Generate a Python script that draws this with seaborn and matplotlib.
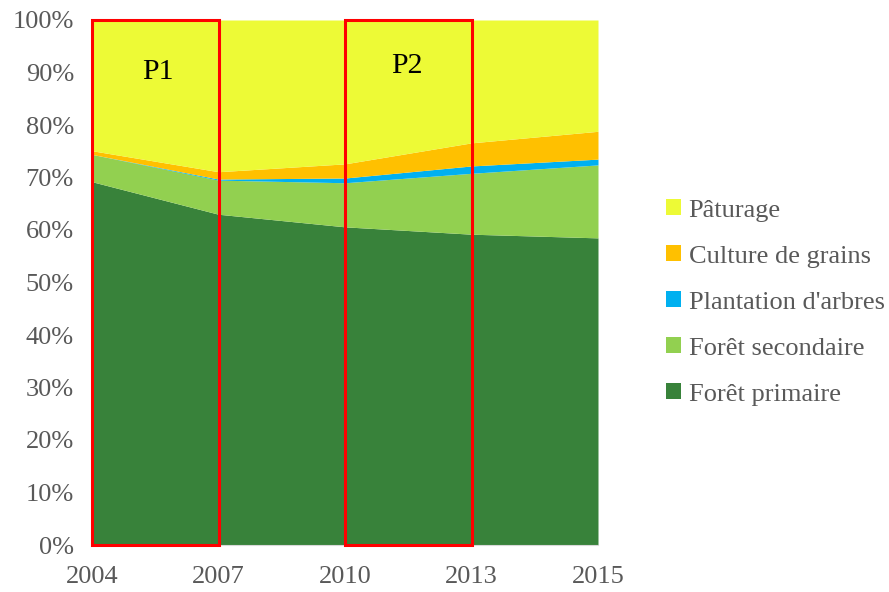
import numpy as np
import matplotlib
matplotlib.use("Agg")
import matplotlib.pyplot as plt
from matplotlib.patches import Rectangle
import seaborn as sns

##### DATA (shares in %)
years = ["2004", "2007", "2010", "2013", "2015"]
foret_primaire = [69.2, 63.0, 60.6, 59.2, 58.5]
foret_secondaire = [5.2, 6.5, 8.4, 11.6, 13.9]
plantation = [0.0, 0.2, 0.9, 1.4, 1.1]
grains = [0.7, 1.4, 2.7, 4.4, 5.3]
paturage = [24.9, 28.9, 27.4, 23.4, 21.2]

labels = ["Forêt primaire", "Forêt secondaire", "Plantation d'arbres",
          "Culture de grains", "Pâturage"]
colours = ["#38823A", "#92D050", "#00B0F0", "#FFC000", "#EDFA36"]

# periods boxed in red: (label, start year, end year)
periods = [("P1", "2004", "2007"), ("P2", "2010", "2013")]

##### PLOT
sns.set_style("white")
plt.rcParams["font.family"] = ["Liberation Serif", "DejaVu Serif"]

fig = plt.figure(figsize=(8.89, 5.92), dpi=100)
ax = fig.add_axes([92/889, 47/592, 506/889, 525/592])

x = np.arange(len(years))
stacks = ax.stackplot(x, foret_primaire, foret_secondaire, plantation, grains,
                      paturage, colors=colours, labels=labels, linewidth=0)

ax.set_xlim(0, len(years) - 1)
ax.set_ylim(0, 100)
ax.set_xticks(x)
ax.set_xticklabels(years)
ax.set_yticks(np.arange(0, 101, 10))
ax.set_yticklabels(["{0}%".format(v) for v in range(0, 101, 10)])
ax.tick_params(axis="both", labelsize=19, labelcolor="#595959", length=0)
ax.tick_params(axis="x", pad=15)
ax.tick_params(axis="y", pad=13)
for side in ["top", "right", "left"]:
    ax.spines[side].set_visible(False)
ax.spines["bottom"].set_color("#D9D9D9")

#red boxes for the two periods
for name, start, end in periods:
    i0, i1 = years.index(start), years.index(end)
    ax.add_patch(Rectangle((i0, 0), i1 - i0, 100, fill=False, edgecolor="red",
                           linewidth=2.2, clip_on=False, zorder=5))
ax.text(0.52, 90.1, "P1", fontsize=21.5, color="black", ha="center", va="center")
ax.text(2.49, 91.2, "P2", fontsize=21.5, color="black", ha="center", va="center")

#legend, top entry is the top layer
handles = stacks[::-1]
leg = ax.legend(handles, labels[::-1], loc="center left",
                bbox_to_anchor=(1.088, 0.462), frameon=False, fontsize=19,
                handlelength=0.55, handleheight=0.55, handletextpad=0.3,
                labelspacing=0.9)
for t in leg.get_texts():
    t.set_color("#595959")

plt.savefig("out.png", dpi=100)
